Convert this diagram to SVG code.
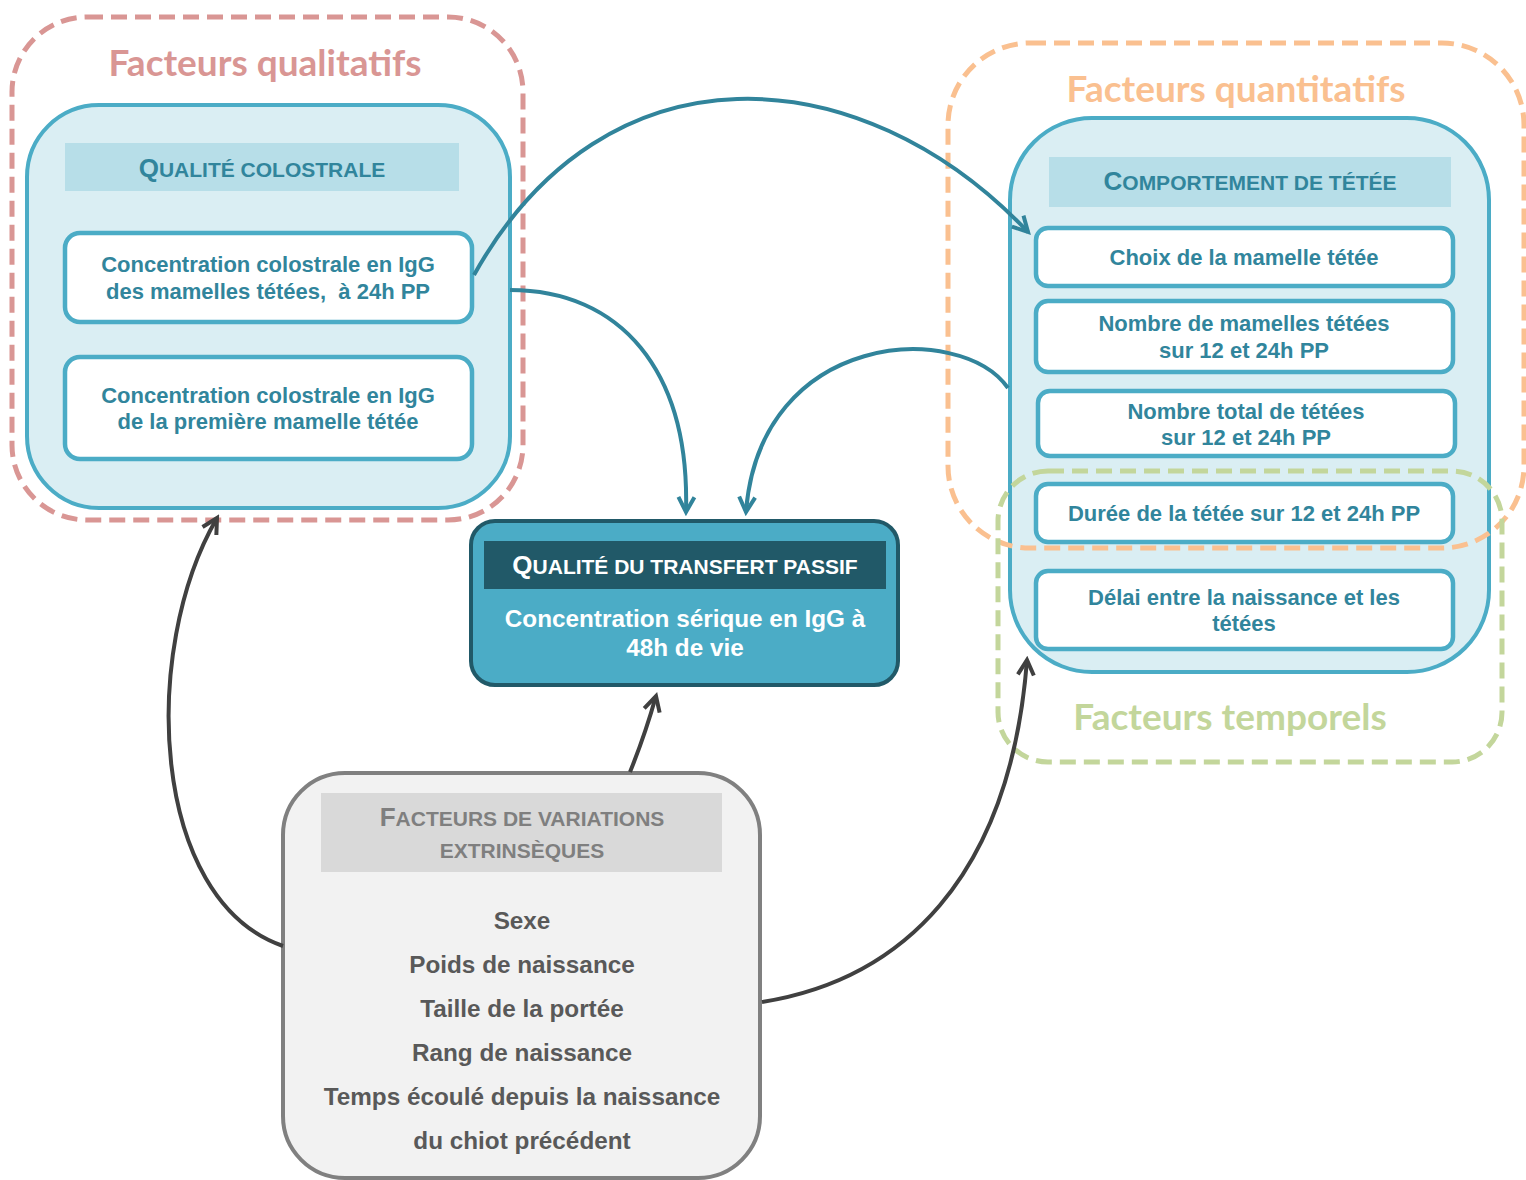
<svg xmlns="http://www.w3.org/2000/svg" width="1526" height="1180" viewBox="0 0 1526 1180">
<defs>
<style>
.frame{fill:none;stroke-width:5;stroke-dasharray:16 8}
.inner{fill:#daeef3;stroke:#4bacc6;stroke-width:4}
.item{fill:#ffffff;stroke:#4bacc6;stroke-width:4.5}
.hdr{fill:#b7dee8}
.t{font-family:"Liberation Sans",Arial,sans-serif;font-weight:bold;text-anchor:middle}
.it{font-size:22px;fill:#31859c}
.sc{font-size:21px}
.big{font-size:26px}
.title{font-family:Lato,"Open Sans",sans-serif;font-weight:bold;font-size:37px;text-anchor:middle}
.conT{fill:none;stroke:#31849b;stroke-width:4}
.conK{fill:none;stroke:#404040;stroke-width:4}
</style>
<marker id="aT" markerUnits="userSpaceOnUse" viewBox="-20 -12 24 24" markerWidth="24" markerHeight="24" refX="0" refY="0" orient="auto">
<path d="M-15,-8 L0,0 L-15,8" fill="none" stroke="#31849b" stroke-width="4" stroke-linejoin="miter"/>
</marker>
<marker id="aK" markerUnits="userSpaceOnUse" viewBox="-20 -12 24 24" markerWidth="24" markerHeight="24" refX="0" refY="0" orient="auto">
<path d="M-15,-8 L0,0 L-15,8" fill="none" stroke="#404040" stroke-width="4" stroke-linejoin="miter"/>
</marker>
</defs>
<rect width="1526" height="1180" fill="#ffffff"/>

<g id="qualite-colostrale">
<rect class="inner" x="27" y="105" width="483" height="403" rx="72"/>
<rect class="hdr" x="65" y="143" width="394" height="48"/>
<text class="t" x="262" y="177" fill="#31859c"><tspan class="big">Q</tspan><tspan class="sc">UALITÉ COLOSTRALE</tspan></text>
</g>
<g id="item-conc-tetees">
<rect class="item" x="65" y="233" width="407" height="89" rx="15"/>
<text class="t it" x="268" y="272">Concentration colostrale en IgG</text>
<text class="t it" x="268" y="299" xml:space="preserve">des mamelles tétées,  à 24h PP</text>
</g>
<g id="item-conc-premiere">
<rect class="item" x="65" y="357" width="407" height="102" rx="15"/>
<text class="t it" x="268" y="403">Concentration colostrale en IgG</text>
<text class="t it" x="268" y="429">de la première mamelle tétée</text>
</g>

<g id="comportement-tetee">
<rect class="inner" x="1010" y="118" width="479" height="554" rx="82"/>
<rect class="hdr" x="1049" y="157" width="402" height="50"/>
<text class="t" x="1250" y="190" fill="#31859c"><tspan class="big">C</tspan><tspan class="sc">OMPORTEMENT DE TÉTÉE</tspan></text>
</g>
<g id="item-choix">
<rect class="item" x="1036" y="228" width="417" height="58" rx="12"/>
<text class="t it" x="1244" y="265">Choix de la mamelle tétée</text>
</g>
<g id="item-nombre-mamelles">
<rect class="item" x="1036" y="301" width="417" height="71" rx="12"/>
<text class="t it" x="1244" y="331">Nombre de mamelles tétées</text>
<text class="t it" x="1244" y="358">sur 12 et 24h PP</text>
</g>
<g id="item-nombre-tetees">
<rect class="item" x="1038" y="391" width="417" height="65" rx="12"/>
<text class="t it" x="1246" y="419">Nombre total de tétées</text>
<text class="t it" x="1246" y="445">sur 12 et 24h PP</text>
</g>
<g id="item-duree">
<rect class="item" x="1036" y="484" width="417" height="58" rx="12"/>
<text class="t it" x="1244" y="521">Durée de la tétée sur 12 et 24h PP</text>
</g>
<g id="item-delai">
<rect class="item" x="1036" y="571" width="417" height="78" rx="12"/>
<text class="t it" x="1244" y="605">Délai entre la naissance et les</text>
<text class="t it" x="1244" y="631">tétées</text>
</g>

<g id="facteurs-qualitatifs">
<rect class="frame" x="12" y="17" width="511" height="503" rx="75" stroke="#d99694"/>
<text class="title" x="265" y="76" fill="#d99694">Facteurs qualitatifs</text>
</g>
<g id="facteurs-quantitatifs">
<rect class="frame" x="948" y="43" width="576" height="505" rx="82" stroke="#fac090"/>
<text class="title" x="1236" y="102" fill="#fac090">Facteurs quantitatifs</text>
</g>
<g id="facteurs-temporels">
<rect class="frame" x="998" y="471" width="504" height="291" rx="50" stroke="#c3d69b"/>
<text class="title" x="1230" y="730" fill="#c3d69b">Facteurs temporels</text>
</g>

<g id="transfert-passif">
<rect x="471" y="521" width="427" height="164" rx="24" fill="#4bacc6" stroke="#215968" stroke-width="4"/>
<rect x="484" y="541" width="402" height="48" fill="#215968"/>
<text class="t" x="685" y="574" fill="#ffffff"><tspan class="big">Q</tspan><tspan class="sc">UALITÉ DU TRANSFERT PASSIF</tspan></text>
<text class="t" x="685" y="627" font-size="24.3" fill="#ffffff">Concentration sérique en IgG à</text>
<text class="t" x="685" y="656" font-size="24.3" fill="#ffffff">48h de vie</text>
</g>

<g id="facteurs-extrinseques">
<rect x="283" y="773" width="477" height="405" rx="62" fill="#f2f2f2" stroke="#808080" stroke-width="4"/>
<rect x="321" y="793" width="401" height="79" fill="#d9d9d9"/>
<text class="t" x="522" y="826" fill="#7f7f7f"><tspan class="big">F</tspan><tspan class="sc">ACTEURS DE VARIATIONS</tspan></text>
<text class="t sc" x="522" y="858" fill="#7f7f7f">EXTRINSÈQUES</text>
<g class="t" font-size="24.3" fill="#595959">
<text x="522" y="929">Sexe</text>
<text x="522" y="973">Poids de naissance</text>
<text x="522" y="1017">Taille de la portée</text>
<text x="522" y="1061">Rang de naissance</text>
<text x="522" y="1105">Temps écoulé depuis la naissance</text>
<text x="522" y="1149">du chiot précédent</text>
</g>
</g>

<g id="connectors">
<path class="conT" d="M474,275 C605,40 860,55 1028,232" marker-end="url(#aT)"/>
<path class="conT" d="M510,290 C620,290 690,370 686,512" marker-end="url(#aT)"/>
<path class="conT" d="M1008,388 C960,320 760,330 746,512" marker-end="url(#aT)"/>
<path class="conK" d="M283,946 C150,900 140,650 217,518" marker-end="url(#aK)"/>
<path class="conK" d="M630,772 Q645,735 656,696" marker-end="url(#aK)"/>
<path class="conK" d="M762,1002 C900,980 1010,880 1027,660" marker-end="url(#aK)"/>
</g>
</svg>
